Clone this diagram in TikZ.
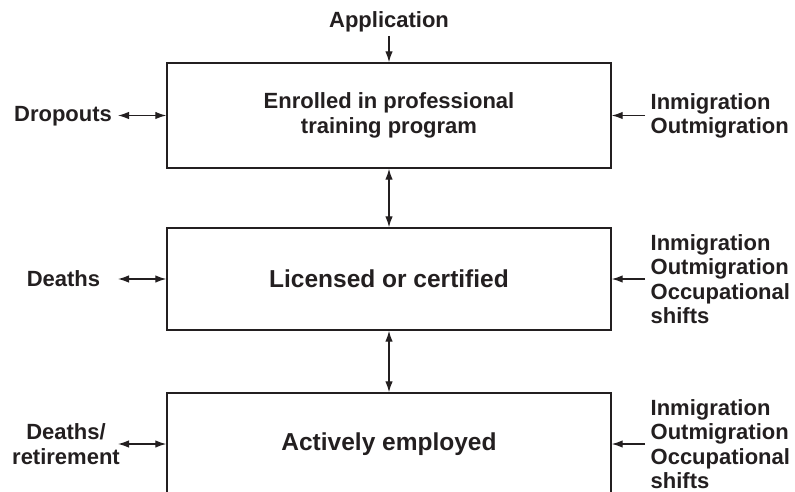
\documentclass[tikz,border=0pt]{standalone}
\usepackage{fontspec}
\setmainfont{Liberation Sans}
\usetikzlibrary{arrows.meta}
\definecolor{ink}{HTML}{231F20}
\begin{document}
\begin{tikzpicture}[
    x=1pt, y=-1pt,
    line width=1.3pt, draw=ink, text=ink,
    stage/.style={rectangle, draw=ink, line width=1.4pt, minimum width=444pt, inner sep=0pt, align=center, font=\fontsize{22}{25}\selectfont\bfseries},
    bigstage/.style={stage, font=\fontsize{24.5}{28}\selectfont\bfseries},
    lbl/.style={inner sep=0pt, align=center, font=\fontsize{22}{24.5}\selectfont\bfseries},
    flow/.style={-{Latex[length=11pt,width=7.5pt]}},
    both/.style={{Latex[length=11pt,width=7.5pt]}-{Latex[length=11pt,width=7.5pt]}}
]
    \useasboundingbox (0,0) rectangle (795,492);
    \clip (0,0) rectangle (795,492);

    % Stages
    \node[stage, minimum height=105pt] (enrol) at (389,115.5) {Enrolled in professional\\training program};
    \node[bigstage, minimum height=102pt] (licensed) at (389,279) {Licensed or certified};
    \node[bigstage, minimum height=102pt] (employed) at (389,444) {Actively employed};

    % Inflow on top
    \node[lbl] (apply) at (389,22) {Application};
    \draw[flow, shorten <=3pt] (apply.south) -- (enrol.north);
    \draw[both] (enrol.south) -- (licensed.north);
    \draw[both] (licensed.south) -- (employed.north);

    % Losses on the left
    \coordinate (lend) at (118,0);
    \node[lbl] (dropouts) at (63,116) {Dropouts};
    \node[lbl] (deaths) at (63.5,279) {Deaths};
    \node[lbl] (retire) at (66,444) {Deaths/\\retirement};
    \draw[both] (lend |- enrol.west) -- (enrol.west);
    \draw[both] (lend |- licensed.west) -- (licensed.west);
    \draw[both] (lend |- employed.west) -- (employed.west);

    % Migration on the right
    \coordinate (rend) at (645,0);
    \node[lbl, anchor=west, align=left] (migA) at (650,116) {Inmigration\\Outmigration};
    \node[lbl, anchor=west, align=left] (migB) at (650,279) {Inmigration\\Outmigration\\Occupational\\shifts};
    \node[lbl, anchor=west, align=left] (migC) at (650,444) {Inmigration\\Outmigration\\Occupational\\shifts};
    \draw[flow] (rend |- enrol.east) -- (enrol.east);
    \draw[flow] (rend |- licensed.east) -- (licensed.east);
    \draw[flow] (rend |- employed.east) -- (employed.east);
\end{tikzpicture}
\end{document}
